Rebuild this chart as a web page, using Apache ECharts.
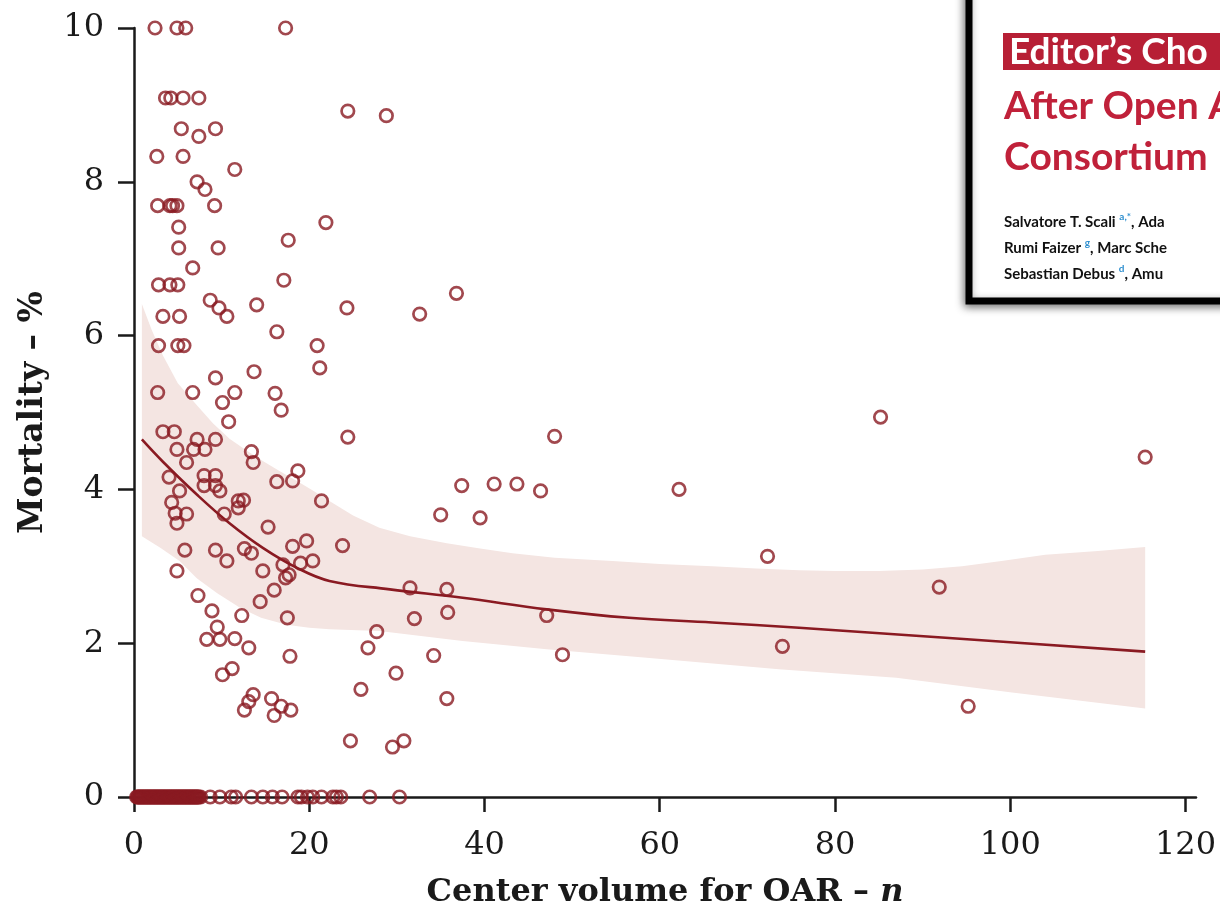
<!DOCTYPE html>
<html>
<head>
<meta charset="utf-8">
<script src="https://cdn.jsdelivr.net/npm/echarts@6/dist/echarts.min.js"></script>
<style>html,body{margin:0;padding:0;background:#fff;}#c{width:1220px;height:914px;}</style>
</head>
<body>
<div id="c"></div>
<script>
// ---- data ----
const xTicks = [0, 20, 40, 60, 80, 100, 120];
const yTicks = [0, 2, 4, 6, 8, 10];

const pointX = [2.4,4.9,5.9,17.3, 3.6,4.2,5.6,7.4, 24.4,28.8, 5.4,9.3, 7.4, 2.6,5.6, 11.5, 7.2, 8.1,
  2.7,4.1,4.4,4.9,9.2, 21.9, 5.1, 17.6, 5.1,9.6, 6.7, 17.1, 2.8,4.1,5.0, 36.8, 8.7, 14.0, 9.7, 24.3, 32.6,
  3.3,5.2,10.6, 16.3, 2.8,5.0,5.7, 20.9, 21.2, 13.7, 9.3, 2.7,6.7,11.5,16.1, 10.1, 16.8, 10.8, 3.3,4.6,
  7.2,9.3, 24.4,48.0, 4.9,6.8,8.1, 13.4,13.6, 6.0, 4.0, 8.0,9.3, 8.0,9.3, 5.2,9.8, 16.3,18.1,18.7,
  37.4,41.1,43.7,46.4, 21.4, 4.3, 11.9,12.5,11.9, 35.0,39.5, 4.7,6.0,10.3, 4.9, 15.3, 18.1,19.7,23.8,
  5.8,9.3, 12.6,13.4, 10.6, 4.9,14.7, 17.0,19.0,20.4, 17.7,17.3, 31.5,35.7, 16.0, 14.4, 17.5, 7.3, 8.9,
  12.3, 47.1,32.0,35.8, 9.5, 27.7, 8.3,9.8,11.5, 13.1, 26.7, 17.8, 48.9,34.2, 11.2,10.1, 29.9, 25.9, 35.7,
  13.6,13.1,12.6, 15.7,16.8,17.9,16.0, 24.7,29.5,30.8, 62.2,72.3,74.0,85.2,91.9,95.2,115.4];
const pointY = [10,10,10,10, 9.09,9.09,9.09,9.09, 8.92,8.86, 8.69,8.69, 8.59, 8.33,8.33, 8.16, 8.0, 7.9,
  7.69,7.69,7.69,7.69,7.69, 7.47, 7.41, 7.24, 7.14,7.14, 6.88, 6.72, 6.66,6.66,6.66, 6.55, 6.46, 6.4, 6.36, 6.36, 6.28,
  6.25,6.25,6.25, 6.05, 5.87,5.87,5.87, 5.87, 5.58, 5.53, 5.45, 5.26,5.26,5.26,5.25, 5.13, 5.03, 4.88, 4.75,4.75,
  4.65,4.65, 4.68,4.69, 4.52,4.52,4.52, 4.49,4.35, 4.35, 4.16, 4.18,4.18, 4.05,4.05, 3.98,3.98, 4.1,4.11,4.24,
  4.05,4.07,4.07,3.98, 3.85, 3.83, 3.85,3.86,3.76, 3.67,3.63, 3.69,3.68,3.68, 3.56, 3.51, 3.26,3.33,3.27,
  3.21,3.21, 3.23,3.17, 3.07, 2.94,2.94, 3.02,3.04,3.07, 2.89,2.85, 2.72,2.7, 2.69, 2.54, 2.33, 2.62, 2.42,
  2.36, 2.36,2.32,2.4, 2.21, 2.15, 2.05,2.05,2.06, 1.94, 1.94, 1.83, 1.85,1.84, 1.67,1.59, 1.61, 1.40, 1.28,
  1.33,1.24,1.13, 1.28,1.18,1.13,1.06, 0.73,0.65,0.73, 4.0,3.13,1.96,4.94,2.73,1.18,4.42];

// centers with 0 % mortality (dense near the origin)
const zeroX = [0.3,0.4,0.5,0.6,0.7,0.8,0.9,1.0,1.1,1.2,1.3,1.4,1.5,1.6,1.7,1.8,1.9,2.0,2.1,2.2,2.3,2.4,2.5,
  2.6,2.7,2.8,2.9,3.0,3.1,3.2,3.3,3.4,3.5,3.6,3.7,3.8,3.9,4.0,4.1,4.2,4.3,4.4,4.5,4.6,4.7,4.8,4.9,5.0,
  5.1,5.2,5.3,5.4,5.5,5.6,5.7,5.8,5.9,6.0,6.1,6.2,6.3,6.4,6.5,6.6,6.7,6.8,6.9,7.0,7.1,7.2,7.3,7.4,7.6,
  8.7,9.8,11.1,11.6,13.4,14.7,15.8,16.9,18.7,19.1,19.8,20.4,21.4,22.7,23.1,23.6,26.9,30.3];

const fitX = [0.9, 3.3, 7.2, 10.9, 14.7, 18.6, 22.3, 29.2, 37.5, 47.1, 56.5, 66, 75.9, 92.6, 115.4];
const fitY = [4.65, 4.36, 3.93, 3.56, 3.24, 2.98, 2.81, 2.70, 2.59, 2.44, 2.33, 2.27, 2.20, 2.07, 1.89];

const bandUpperX = [0.9, 2.0, 3.3, 5.0, 7.2, 9.0, 10.9, 12.8, 14.7, 16.6, 18.6, 20.5, 22.3, 25.0, 28.0, 31.5, 35.7, 39.5, 43.2, 48.0, 54.6, 60.0, 66.0, 71.0, 75.9, 80.0, 85, 90.0, 94.5, 99.0, 104, 110.0, 115.4];
const bandUpperY = [6.41, 6.08, 5.74, 5.38, 5.09, 4.86, 4.66, 4.51, 4.37, 4.24, 4.11, 3.98, 3.85, 3.66, 3.50, 3.39, 3.30, 3.23, 3.17, 3.11, 3.07, 3.03, 3.00, 2.97, 2.95, 2.94, 2.94, 2.96, 3.00, 3.07, 3.15, 3.20, 3.25];
const bandLowerX = [0.9, 3.0, 5.2, 7.2, 9.5, 12.1, 14.5, 17.4, 20.0, 22.3, 28.0, 37.5, 47.1, 58.5, 73.6, 87, 100.2, 115.4];
const bandLowerY = [3.39, 3.24, 3.07, 2.84, 2.65, 2.46, 2.33, 2.24, 2.20, 2.18, 2.16, 2.03, 1.92, 1.81, 1.66, 1.55, 1.36, 1.15];

// ---- build ----
const RED = '#8a1a22';
const scatterData = pointX.map((x, i) => [x, pointY[i]]).concat(zeroX.map(x => [x, 0]));
const fitData = fitX.map((x, i) => [x, fitY[i]]);

const chart = echarts.init(document.getElementById('c'), null, {renderer: 'canvas'});
chart.setOption({
  animation: false,
  backgroundColor: '#fff',
  grid: {left: 134, right: 24, top: 28, bottom: 114, containLabel: false},
  xAxis: {
    type: 'value', min: 0, max: 121.2,
    splitLine: {show: false},
    axisLine: {lineStyle: {color: '#1a1a1a', width: 2.5}},
    axisTick: {length: 15, lineStyle: {color: '#1a1a1a', width: 2.5}, customValues: xTicks},
    axisLabel: {customValues: xTicks, color: '#1a1a1a', fontFamily: 'DejaVu Serif', fontSize: 32, margin: 33},
    name: '{b|Center volume for OAR – }{i|n}',
    nameLocation: 'middle', nameGap: 80,
    nameTextStyle: {rich: {
      b: {fontFamily: 'DejaVu Serif', fontWeight: 'bold', fontSize: 32, color: '#1a1a1a'},
      i: {fontFamily: 'DejaVu Serif', fontWeight: 'bold', fontStyle: 'italic', fontSize: 32, color: '#1a1a1a'}
    }}
  },
  yAxis: {
    type: 'value', min: 0, max: 10, interval: 2,
    splitLine: {show: false},
    axisLine: {lineStyle: {color: '#1a1a1a', width: 2.5}},
    axisTick: {length: 16, lineStyle: {color: '#1a1a1a', width: 2.5}, customValues: yTicks},
    axisLabel: {customValues: yTicks, color: '#1a1a1a', fontFamily: 'DejaVu Serif', fontSize: 32, margin: 30},
    name: 'Mortality – %',
    nameLocation: 'middle', nameGap: 84, nameRotate: 90,
    nameTextStyle: {fontFamily: 'DejaVu Serif', fontWeight: 'bold', fontSize: 33, color: '#1a1a1a'}
  },
  series: [
    {
      type: 'custom', name: 'band', z: 1, silent: true,
      data: [[0, 0]],
      renderItem: function (params, api) {
        const pts = [];
        for (let i = 0; i < bandUpperX.length; i++) pts.push(api.coord([bandUpperX[i], bandUpperY[i]]));
        for (let i = bandLowerX.length - 1; i >= 0; i--) pts.push(api.coord([bandLowerX[i], bandLowerY[i]]));
        return {type: 'polygon', shape: {points: pts}, style: {fill: '#f4e5e2'}};
      }
    },
    {
      type: 'line', name: 'fit', z: 2, data: fitData, smooth: 0.4, showSymbol: false, silent: true,
      lineStyle: {color: RED, width: 2.6}
    },
    {
      type: 'scatter', name: 'centers', z: 3, data: scatterData,
      symbol: 'circle', symbolSize: 12.5,
      itemStyle: {color: 'rgba(255,255,255,0)', borderColor: RED, borderWidth: 2.7}
    }
  ],
  graphic: [
    {type: 'rect', z: 100, shape: {x: 969, y: -20, width: 300, height: 321},
      style: {fill: '#fff', stroke: '#000', lineWidth: 7, shadowBlur: 8, shadowColor: 'rgba(0,0,0,0.45)', shadowOffsetX: -2, shadowOffsetY: 3}},
    {type: 'rect', z: 101, shape: {x: 1003, y: 33, width: 230, height: 37}, style: {fill: '#b71f35'}},
    {type: 'text', z: 102, x: 1009, y: 52, style: {text: 'Editor’s Cho', fill: '#fff', font: 'bold 37px Lato', verticalAlign: 'middle'}},
    {type: 'text', z: 102, x: 1004, y: 106, style: {text: 'After Open A', fill: '#c0213a', font: 'bold 39px Lato', verticalAlign: 'middle'}},
    {type: 'text', z: 102, x: 1004, y: 157, style: {text: 'Consortium', fill: '#c0213a', font: 'bold 39px Lato', verticalAlign: 'middle'}},
    {type: 'text', z: 102, x: 1004, y: 222, style: {text: '{t|Salvatore T. Scali }{s|a,*}{t|, Ada}', verticalAlign: 'middle',
      rich: {t: {font: 'bold 15px Lato', fill: '#111', lineHeight: 20}, s: {font: 'bold 10px Lato', fill: '#2f8fcf', verticalAlign: 'top', lineHeight: 20}}}},
    {type: 'text', z: 102, x: 1004, y: 248, style: {text: '{t|Rumi Faizer }{s|g}{t|, Marc Sche}', verticalAlign: 'middle',
      rich: {t: {font: 'bold 15px Lato', fill: '#111', lineHeight: 20}, s: {font: 'bold 10px Lato', fill: '#2f8fcf', verticalAlign: 'top', lineHeight: 20}}}},
    {type: 'text', z: 102, x: 1004, y: 274, style: {text: '{t|Sebastian Debus }{s|d}{t|, Amu}', verticalAlign: 'middle',
      rich: {t: {font: 'bold 15px Lato', fill: '#111', lineHeight: 20}, s: {font: 'bold 10px Lato', fill: '#2f8fcf', verticalAlign: 'top', lineHeight: 20}}}}
  ]
});
</script>
</body>
</html>
